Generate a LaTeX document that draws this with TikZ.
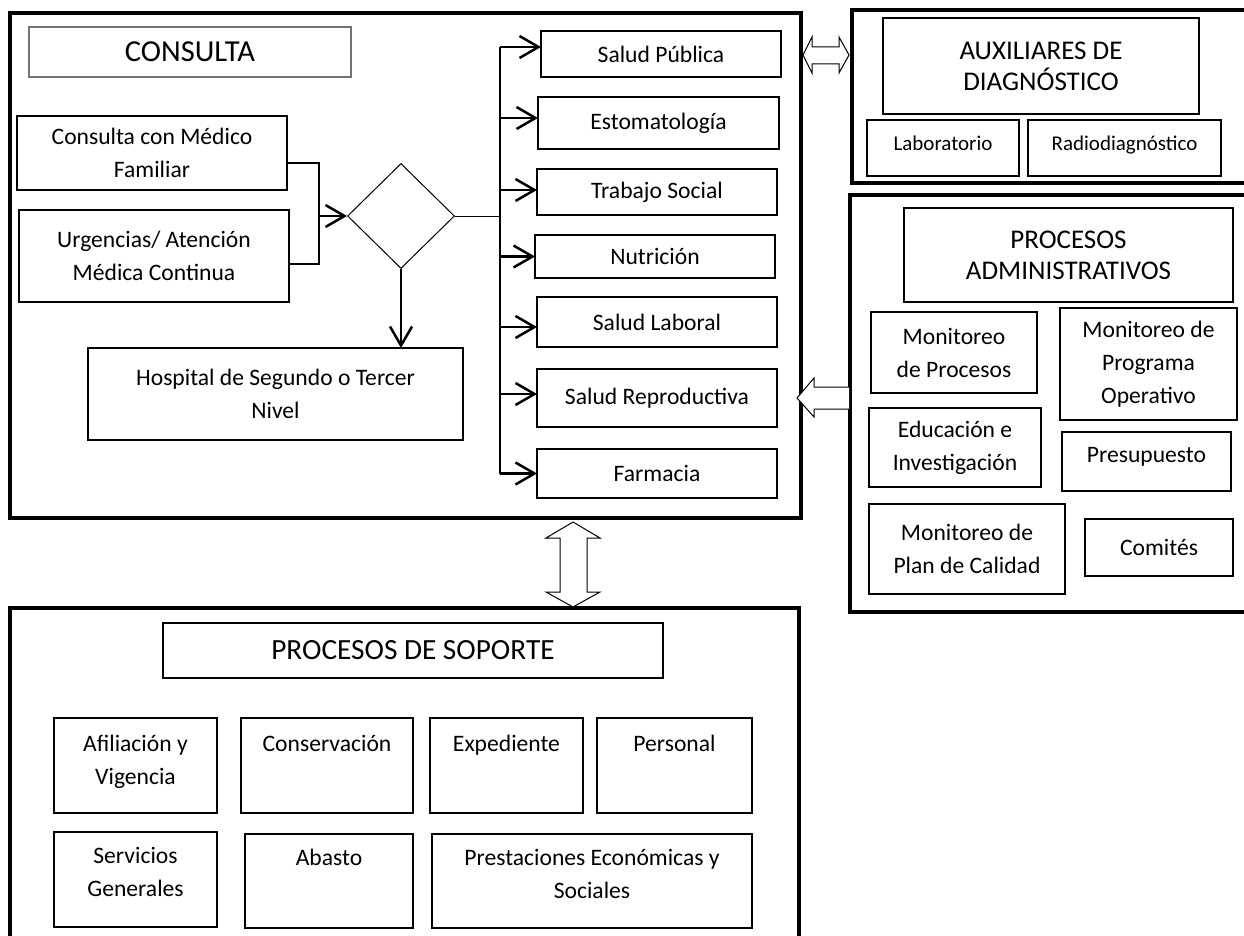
\documentclass[tikz,border=0pt]{standalone}
\usepackage{fontspec}
\setmainfont{Carlito}
\usetikzlibrary{arrows.meta,shapes.geometric,calc}
\newcommand{\bodyfnt}{\fontsize{23.6}{33}\selectfont}
\newcommand{\headfnt}{\fontsize{27}{31}\selectfont}
\newcommand{\smallfnt}{\fontsize{21}{25}\selectfont}

\begin{document}
\begin{tikzpicture}[x=1pt, y=-1pt, >={Straight Barb[length=19pt,width=22pt]},
    frame/.style={draw, line width=4.5pt, inner sep=0pt, outer sep=0pt},
    box/.style={draw, line width=2.5pt, inner sep=0pt, outer sep=0pt, align=center, font=\bodyfnt},
    sbox/.style={draw, line width=1.5pt, inner sep=0pt, outer sep=0pt, align=center, font=\bodyfnt},
    stext/.style={anchor=north, align=center, inner sep=0pt, font=\bodyfnt},
    hollow/.style={draw, fill=white, line width=1pt, line join=miter},
    arr/.style={->, line width=2.5pt}]
  \useasboundingbox (0,0) rectangle (1244,936);
  % frames
  \node[frame, minimum width=791pt, minimum height=505pt] (fcons) at (405.5,265.5) {};
  \node[frame, minimum width=400pt, minimum height=173pt] (faux) at (1052,96.5) {};
  \node[frame, minimum width=402pt, minimum height=417pt] (fadm) at (1051,403.5) {};
  \node[frame, minimum width=789pt, minimum height=337pt] (fsop) at (404.5,776.5) {};
  % consulta
  \node[sbox, draw=black!55, line width=1.2pt, minimum width=322pt, minimum height=50pt,
        font=\fontsize{30.5}{36}\selectfont] (cons) at (190,52) {CONSULTA};
  \node[box, minimum width=270pt, minimum height=74pt] (mf) at (152,153) {Consulta con Médico\\Familiar};
  \node[box, minimum width=270pt, minimum height=92pt] (urg) at (154,256) {Urgencias/ Atención\\Médica Continua};
  \node[draw, diamond, line width=1pt, inner sep=0pt, minimum width=107pt, minimum height=105pt] (dec) at (401,216) {};
  \node[box, line width=2pt, minimum width=375pt, minimum height=92pt] (hosp) at (275.5,394) {Hospital de Segundo o Tercer\\Nivel};
  % servicios
  \node[box, minimum width=240pt, minimum height=46pt] (sp) at (661,54) {Salud Pública};
  \node[box, minimum width=241pt, minimum height=52pt] (esto) at (658.5,123) {Estomatología};
  \node[box, minimum width=240pt, minimum height=46pt] (trab) at (657,192) {Trabajo Social};
  \node[box, minimum width=240pt, minimum height=43pt] (nutr) at (655,256.5) {Nutrición};
  \node[box, minimum width=240pt, minimum height=50pt] (labo) at (657,322) {Salud Laboral};
  \node[box, minimum width=240pt, minimum height=58pt] (repr) at (657,398) {Salud Reproductiva};
  \node[box, minimum width=240pt, minimum height=49pt] (farm) at (657,473.5) {Farmacia};
  % connectors
  \coordinate (join) at (319,216);
  \coordinate (trunk) at (500,216);
  \draw[line width=2.5pt] ([yshift=-10pt]mf.east) -| (join);
  \draw[line width=2.5pt] ([yshift=-8pt]urg.east) -| (join);
  \draw[arr] (join) -- (dec.west);
  \draw[arr] (dec.south) -- (dec.south |- hosp.north);
  \draw[line width=1pt] (dec.east) -- (trunk);
  \draw[line width=2.5pt] ([yshift=7pt]sp.west -| trunk) -- (farm.west -| trunk);
  \foreach \b/\s in {sp/7, esto/5, trab/2, nutr/0, labo/-5, repr/4, farm/0}
    \draw[arr] ([yshift=\s pt]\b.west -| trunk) -- ([yshift=\s pt]\b.west);
  % auxiliares
  \node[sbox, font=\headfnt, minimum width=316pt, minimum height=96pt] (auxt) at (1041,66) {AUXILIARES DE\\DIAGNÓSTICO};
  \node[sbox, font=\smallfnt, text height=15pt, text depth=9pt, minimum width=152pt, minimum height=56pt] (lab) at (943,148) {Laboratorio};
  \node[sbox, font=\smallfnt, text height=15pt, text depth=9pt, minimum width=193pt, minimum height=56pt] (rad) at (1124.5,148) {Radiodiagnóstico};
  % administrativos
  \node[sbox, font=\headfnt, minimum width=329pt, minimum height=94pt] (admt) at (1068.5,255) {PROCESOS\\ADMINISTRATIVOS};
  \node[sbox, minimum width=166pt, minimum height=81pt] (mproc) at (954,352.5) {Monitoreo\\de Procesos};
  \node[sbox, minimum width=177pt, minimum height=112pt] (mprog) at (1148.5,364) {Monitoreo de\\Programa\\Operativo};
  \node[sbox, minimum width=172pt, minimum height=79pt] (educ) at (955,447.5) {Educación e\\Investigación};
  \node[sbox, text height=17pt, text depth=16pt, minimum width=169pt, minimum height=59pt] (presu) at (1146.5,461.5) {Presupuesto};
  \node[sbox, minimum width=196pt, minimum height=90pt] (calid) at (967,549) {Monitoreo de\\Plan de Calidad};
  \node[sbox, minimum width=148pt, minimum height=57pt] (comit) at (1159,547.5) {Comités};
  % soporte
  \node[sbox, font=\fontsize{29.3}{35}\selectfont, minimum width=500pt, minimum height=55pt] (sopt) at (413,650.5) {PROCESOS DE SOPORTE};
  \node[sbox, minimum width=163pt, minimum height=95pt] (afil) at (135.5,765.5) {};
  \node[sbox, minimum width=172pt, minimum height=95pt] (conse) at (327,765.5) {};
  \node[sbox, minimum width=153pt, minimum height=95pt] (exped) at (506.5,765.5) {};
  \node[sbox, minimum width=155pt, minimum height=95pt] (pers) at (674.5,765.5) {};
  \node[sbox, minimum width=163pt, minimum height=95pt] (serv) at (135.5,879.5) {};
  \node[sbox, minimum width=168pt, minimum height=94pt] (abas) at (329,881) {};
  \node[sbox, minimum width=320pt, minimum height=94pt] (prest) at (592,881) {};
  \node[stext] (afil-t) at ([yshift=-17pt]afil.north) {Afiliación y\\Vigencia};
  \node[stext] (conse-t) at ([yshift=-17pt]conse.north) {Conservación};
  \node[stext] (exped-t) at ([yshift=-17pt]exped.north) {Expediente};
  \node[stext] (pers-t) at ([yshift=-17pt]pers.north) {Personal};
  \node[stext] (serv-t) at ([yshift=-15pt]serv.north) {Servicios\\Generales};
  \node[stext] (abas-t) at ([yshift=-15pt]abas.north) {Abasto};
  \node[stext] (prest-t) at ([yshift=-15pt]prest.north) {Prestaciones Económicas y\\Sociales};
  % hollow arrows
  \draw[hollow] (803,55) -- (812,37) -- (812,47) -- (839,47) -- (839,37) -- (849,55)
    -- (839,73) -- (839,64) -- (812,64) -- (812,73) -- cycle;
  \draw[hollow] (849,387) -- (814,387) -- (814,378) -- (797,398) -- (814,417) -- (814,409) -- (849,409);
  \draw[hollow] (573,522) -- (600,538) -- (587,538) -- (587,592) -- (600,592) -- (573,607)
    -- (546,592) -- (560,592) -- (560,538) -- (546,538) -- cycle;
\end{tikzpicture}
\end{document}
